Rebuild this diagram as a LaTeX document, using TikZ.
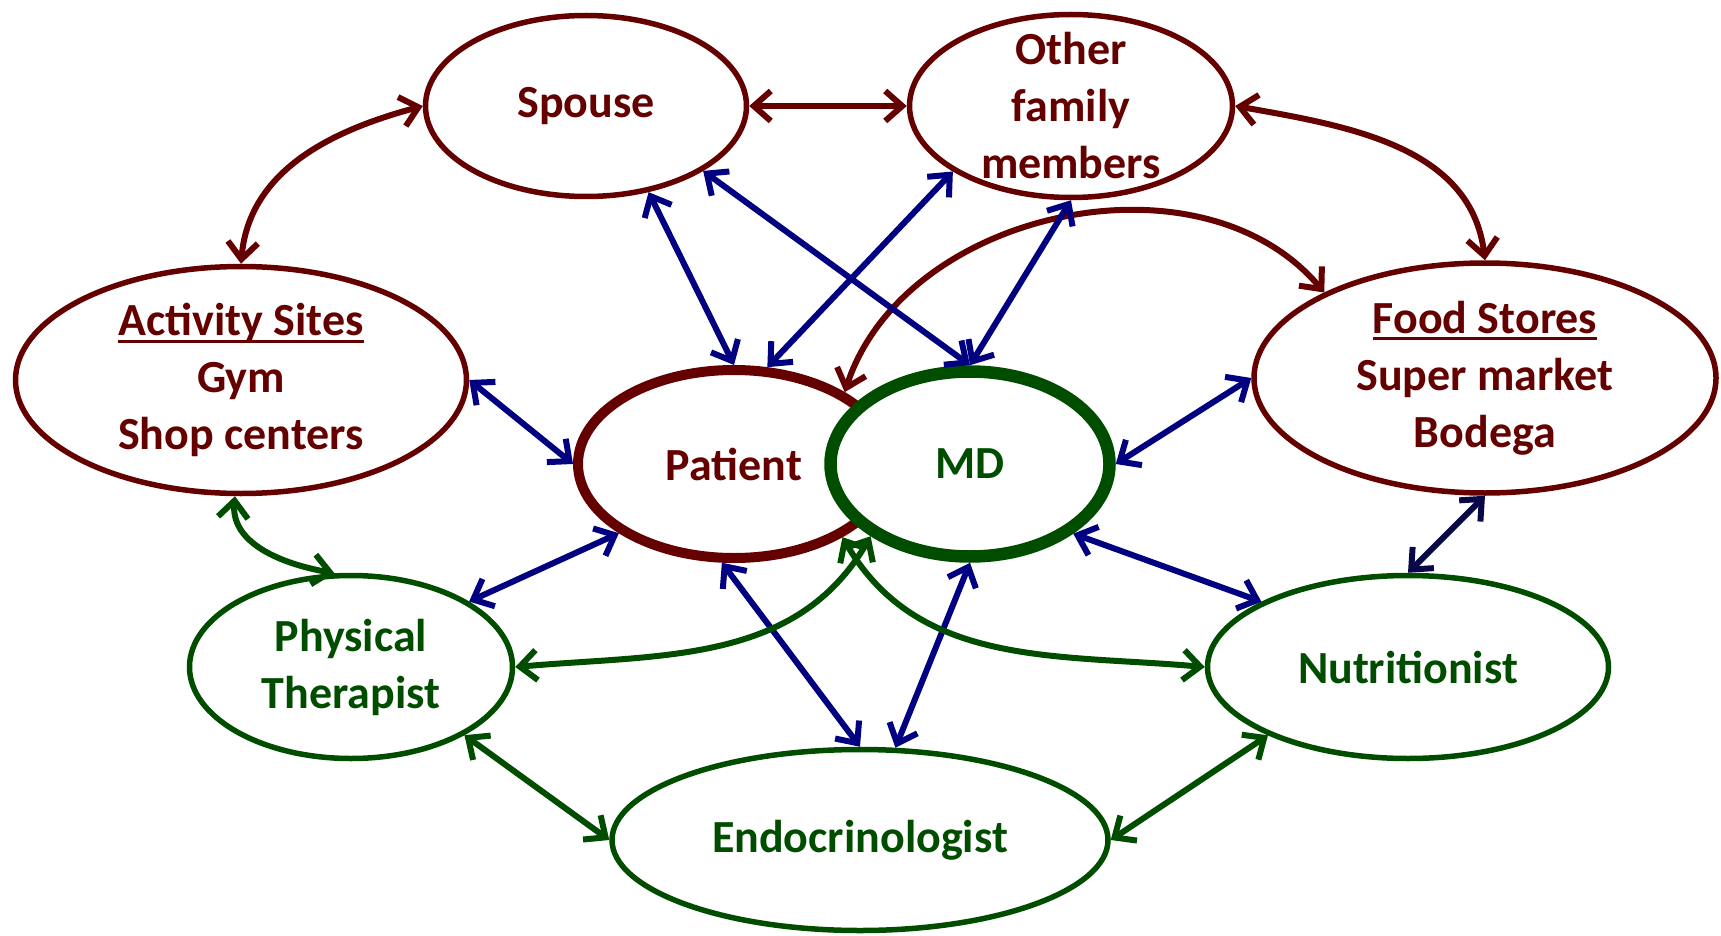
\documentclass[tikz,border=0pt]{standalone}
\usepackage{fontspec}
\setmainfont{Carlito}
\usetikzlibrary{arrows.meta,shapes.geometric}
\definecolor{famred}{RGB}{100,0,0}
\definecolor{medgreen}{RGB}{0,77,0}
\definecolor{linkblue}{RGB}{0,0,128}
\definecolor{linknavy}{RGB}{8,8,72}
\def\headline#1{\setbox0\hbox{#1}\rlap{\rule[-7pt]{\wd0}{3pt}}\box0}

\tikzset{
	circlebase/.style={ellipse, draw, fill=white, inner sep=-15pt, align=center,
		font=\fontsize{46}{57}\selectfont\bfseries},
	social/.style={circlebase, draw=famred, text=famred, line width=5.5pt},
	clinic/.style={circlebase, draw=medgreen, text=medgreen, line width=5.5pt},
	bluelink/.style={<->, linkblue, line width=6pt},
	redlink/.style={<->, famred, line width=6pt},
	greenlink/.style={<->, medgreen, line width=6pt},
}

\begin{document}
\begin{tikzpicture}[x=1pt, y=1pt, >={Straight Barb[length=17pt,width=30pt]}]
			%%%%% START %%%%%
			\useasboundingbox (0,0) rectangle (1721,-936);
			
			\node[social, minimum width=321pt, minimum height=181pt] (spouse) at (586,-106) {Spouse};
			\node[social, minimum width=323pt, minimum height=183pt] (family) at (1071,-106) {Other\\family\\members};
			\node[social, minimum width=451pt, minimum height=227pt] (activity) at (241,-380) {\headline{Activity Sites}\\Gym\\Shop centers};
			\node[social, minimum width=462pt, minimum height=230pt] (food) at (1485,-378) {\headline{Food Stores}\\Super market\\Bodega};
			
			\node[social, line width=10pt, minimum width=312pt, minimum height=188pt] (patient) at (734,-464) {Patient};
			\node[clinic, line width=12.5pt, minimum width=279pt, minimum height=185pt] (md) at (970,-464) {MD};
			
			\node[clinic, minimum width=323pt, minimum height=183pt] (pt) at (351,-667) {Physical\\Therapist};
			\node[clinic, minimum width=401pt, minimum height=183pt] (nutri) at (1408,-667) {Nutritionist};
			\node[clinic, minimum width=496pt, minimum height=181pt] (endo) at (860,-840) {Endocrinologist};
			
			% family ties
			\draw[redlink] (spouse.east) -- (family.west);
			\draw[redlink] (spouse.west) to[out=195, in=85] (activity.north);
			\draw[redlink] (family.east) to[out=-10, in=97] (food.north);
			\draw[redlink] (patient.33) to[out=72, in=130] (food.152);
			
			% links to patient and MD
			\draw[bluelink] (spouse.-54) -- (patient.north);
			\draw[bluelink] (spouse.-29) -- (md.north);
			\draw[bluelink] (family.-151) -- (patient.71);
			\draw[bluelink] (family.south) -- (md.north);
			\draw[bluelink] (activity.east) -- (patient.west);
			\draw[bluelink] (food.west) -- (md.east);
			\draw[bluelink] (pt.29) -- (patient.-149);
			\draw[bluelink] (nutri.156) -- (md.-34);
			\draw[bluelink] (patient.-97) -- (endo.north);
			\draw[bluelink] (md.south) -- (endo.69);
			\draw[bluelink, linknavy] (food.south) -- (nutri.north);
			
			% care team
			\draw[greenlink] (activity.-93) to[out=-95, in=170] (pt.100);
			\draw[greenlink] (md.-144) to[out=-120, in=5] (pt.east);
			\draw[greenlink] (patient.-34) to[out=-60, in=175] (nutri.west);
			\draw[greenlink] (pt.-31) -- (endo.west);
			\draw[greenlink] (endo.east) -- (nutri.-154);
			
			%%%%% END %%%%%
\end{tikzpicture}
\end{document}
